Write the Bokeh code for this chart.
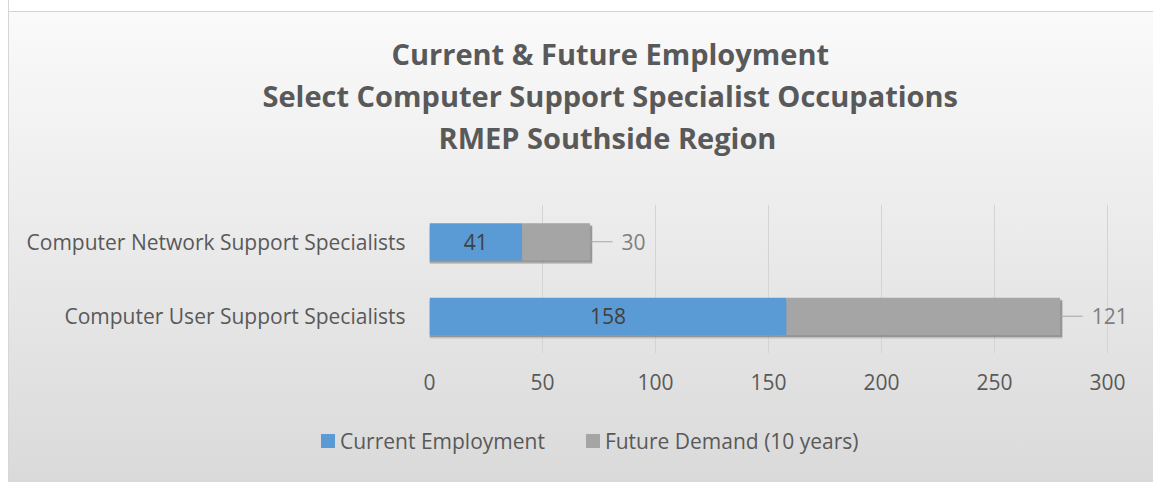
from bokeh.plotting import figure
from bokeh.layouts import column
from bokeh.models import (ColumnDataSource, FactorRange, Range1d, Title, Div)
from bokeh.transform import dodge
from bokeh.core.properties import value
from bokeh.embed import file_html
from bokeh.resources import INLINE

# ---- data ----
occupations = ["Computer User Support Specialists", "Computer Network Support Specialists"]
current_employment = [158, 41]
future_demand = [121, 30]
series_names = ["Current Employment", "Future Demand (10 years)"]
title_lines = ["Current & Future Employment",
               "Select Computer Support Specialist Occupations",
               "RMEP Southside Region"]
x_ticks = [0, 50, 100, 150, 200, 250, 300]

FONT = "Open Sans"
TXT = "#595959"
BLUE = "#5B9BD5"
GRAY = "#A5A5A5"
series_colors = [BLUE, GRAY]

total = [c + f for c, f in zip(current_employment, future_demand)]
src = ColumnDataSource(dict(
    cat=occupations,
    cur=current_employment,
    fut=future_demand,
    total=total,
    zero=[0] * len(occupations),
    mid=[c / 2 for c in current_employment],
    cur_txt=[str(c) for c in current_employment],
    fut_txt=[str(f) for f in future_demand],
    lead_end=[t + 10 for t in total],
    lab_x=[t + 14 for t in total],
    shadow_r=[t + 1.0 for t in total],
))

px_per_unit = 678 / 300
x_end = 300 + 46 / px_per_unit

MAIN_H = 420
LEG_H = 482 - MAIN_H

p = figure(width=1153, height=MAIN_H, output_backend="svg", toolbar_location=None,
           y_range=FactorRange(*occupations), x_range=Range1d(0, x_end),
           min_border_left=429, min_border_right=0, min_border_top=204,
           min_border_bottom=MAIN_H - 353,
           border_fill_color=None, background_fill_color=None, outline_line_color=None)

p.ygrid.grid_line_color = None
p.xgrid.grid_line_color = "#d4d4d4"
p.xgrid.grid_line_width = 1
p.xaxis.ticker = x_ticks

for ax in (p.xaxis[0], p.yaxis[0]):
    ax.axis_line_color = None
    ax.major_tick_line_color = None
    ax.minor_tick_line_color = None
    ax.major_tick_out = 0
    ax.major_tick_in = 0
    ax.major_label_text_font = FONT
    ax.major_label_text_font_size = "21px"
    ax.major_label_text_color = TXT
p.xaxis.major_label_standoff = 20
p.yaxis.major_label_standoff = 24

# soft shadow under the bars
p.hbar(y=dodge("cat", -0.05, range=p.y_range), left="zero", right="shadow_r", height=0.5,
       source=src, fill_color="#808080", fill_alpha=0.35, line_color=None)
p.hbar(y=dodge("cat", -0.03, range=p.y_range), left="zero", right="shadow_r", height=0.5,
       source=src, fill_color="#606060", fill_alpha=0.45, line_color=None)
p.hbar(y="cat", left="zero", right="cur", height=0.5, source=src,
       fill_color=BLUE, line_color=None)
p.hbar(y="cat", left="cur", right="total", height=0.5, source=src,
       fill_color=GRAY, line_color=None)

p.text(x="mid", y="cat", text="cur_txt", source=src, text_align="center", text_baseline="middle",
       text_font=value(FONT), text_font_size="21px", text_color="#404040")
p.segment(x0="total", y0="cat", x1="lead_end", y1="cat", source=src,
          line_color="#a6a6a6", line_width=1.2)
p.text(x="lab_x", y="cat", text="fut_txt", source=src, text_align="left", text_baseline="middle",
       text_font=value(FONT), text_font_size="21px", text_color="#7f7f7f")

# title block, listed from the frame outward
def title(text, off=0, so=1, size="29px"):
    return Title(text=text, align="left", offset=off, standoff=so,
                 text_font=FONT, text_font_style="bold", text_font_size=size, text_color=TXT)

p.add_layout(title(" ", so=11, size="25px"), "above")   # spacer next to the frame
p.add_layout(title(title_lines[2], off=9), "above")
p.add_layout(title(title_lines[1], off=-167), "above")
p.add_layout(title(title_lines[0], off=-38), "above")
p.add_layout(title(" ", so=11, size="12px"), "above")   # spacer at the top

# legend strip
items_html = ""
for i, (name, col) in enumerate(zip(series_names, series_colors)):
    gap = "0px" if i == 0 else "41px"
    items_html += (f'<span style="display:inline-block;width:14px;height:14px;background:{col};'
                   f'margin-left:{gap};margin-right:5px"></span><span>{name}</span>')
legend_div = Div(
    text=(f'<div style="display:flex;align-items:center;height:32px;margin-left:316px;'
          f'white-space:nowrap;font-family:\'{FONT}\';font-size:21px;color:{TXT}">{items_html}</div>'),
    width=1153, height=LEG_H)

layout = column(p, legend_div, spacing=0, styles={
    "background": ("linear-gradient(to right, #ffffff 0px, #ffffff 8px, #d6d6d6 8px, #d6d6d6 9px, transparent 9px),"
                   "linear-gradient(to bottom, #ffffff 0px, #ffffff 11px, #d3d3d3 11px, #d3d3d3 12px, #fafafa 12px, #d9d9d9 100%)")
})

open("out.html", "w").write(file_html(layout, INLINE))
